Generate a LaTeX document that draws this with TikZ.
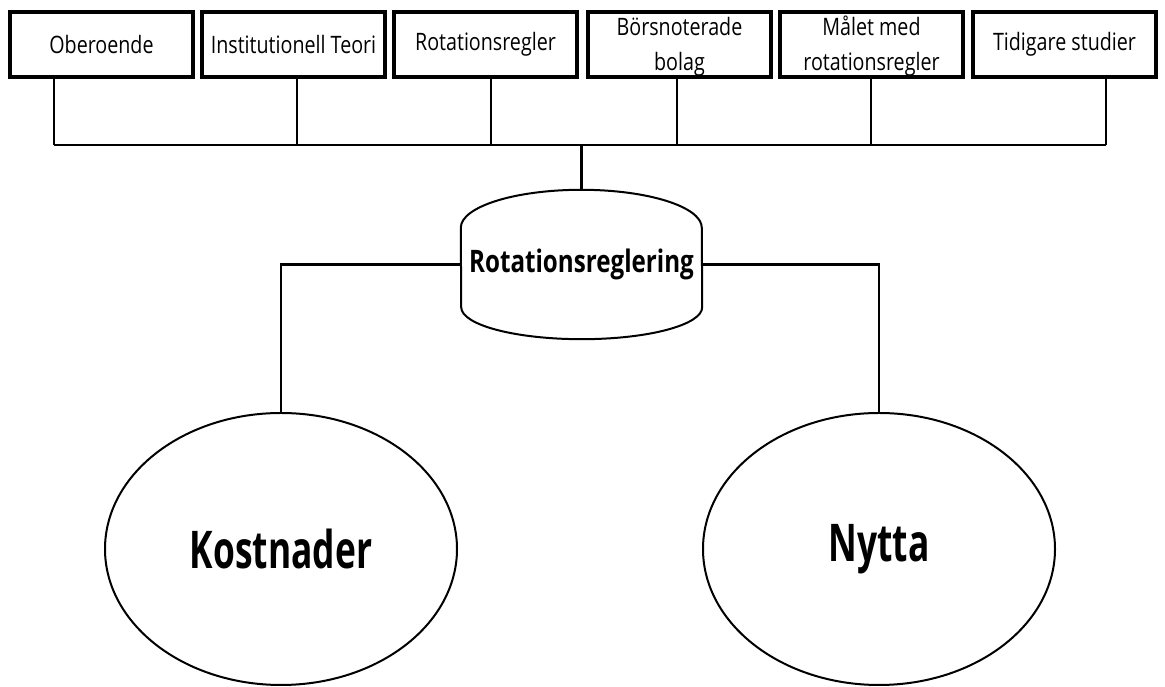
\documentclass[tikz,border=0pt]{standalone}
\usepackage{fontspec}
\usepackage{tikz}
\usetikzlibrary{shapes,positioning}
\newfontfamily\topicfont[FakeStretch=0.82]{Open Sans}
\newfontfamily\hubfont[FakeStretch=0.78]{Open Sans}
\newfontfamily\effectfont[FakeStretch=0.68]{Open Sans}
\newcommand{\twolines}[2]{\smash{\raisebox{-8pt}{\begin{tabular}{@{}c@{}}#1\\#2\end{tabular}}}}

\begin{document}
\begin{tikzpicture}
              [x=1pt,y=1pt,
                topic/.style={rectangle,draw,line width=3.2pt,minimum width=183pt,minimum height=65pt,inner sep=0pt,
                  font=\topicfont\fontsize{24}{35}\selectfont},
                effect/.style={ellipse,draw,line width=2pt,minimum width=352pt,minimum height=272pt,inner sep=0pt,
                  font=\effectfont\bfseries\fontsize{52}{60}\selectfont},
                link/.style={line width=2.5pt}]
              \useasboundingbox (0,0) rectangle (1165,687);
              \node[topic] (t1) at (101.5,642.5) {Oberoende};
              \node[topic] (t2) at (293.5,642.5) {Institutionell Teori};
              \node[topic] (t3) at (485.5,642.5) {Rotationsregler};
              \node[topic] (t4) at (679.5,642.5) {\twolines{Börsnoterade}{bolag}};
              \node[topic] (t5) at (871.5,642.5) {\twolines{Målet med}{rotationsregler}};
              \node[topic] (t6) at (1064.5,642.5) {Tidigare studier};
              \coordinate (j1) at (54,542);
              \coordinate (j2) at (297,542);
              \coordinate (j3) at (491,542);
              \coordinate (j4) at (677,542);
              \coordinate (j5) at (871,542);
              \coordinate (j6) at (1106,542);
              \foreach \from/\to in {t1/j1,t2/j2,t3/j3,t4/j4,t5/j5,t6/j6}
              \draw[link] (\to |- \from.south) -- (\to);
              \draw[link] (j1) -- (j6);
              \node[minimum width=241pt,minimum height=149pt,inner sep=0pt,
                font=\hubfont\bfseries\fontsize{31}{36}\selectfont] (hub) at (581.5,422.5) {Rotationsreglering};
              \draw[line width=2pt] ([yshift=-38pt]hub.north west) arc[start angle=180,end angle=0,x radius=120.5pt,y radius=38pt]
                -- ([yshift=32pt]hub.south east) arc[start angle=0,end angle=-180,x radius=120.5pt,y radius=32pt] -- cycle;
              \draw[link] (hub.north |- j1) -- (hub.north);
              \node[effect] (cost) at (281,138) {Kostnader};
              \node[effect] (gain) at (879,138) {Nytta};
              \draw[link] (hub.west) -| (cost.north);
              \draw[link] (hub.east) -| (gain.north);
            \end{tikzpicture}
\end{document}
